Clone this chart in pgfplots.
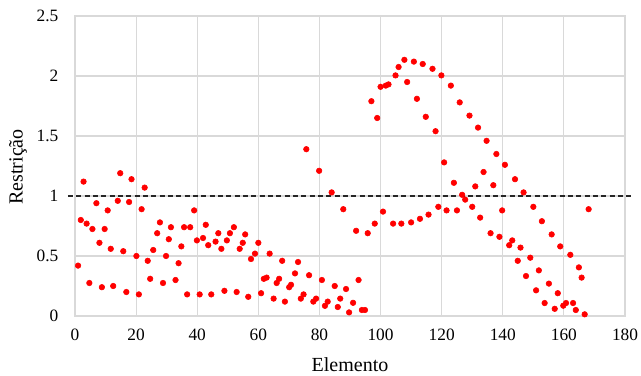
\documentclass[border=0pt]{standalone}
\usepackage{fontspec}
\setmainfont{Liberation Serif}
\usepackage{pgfplots}
\pgfplotsset{compat=1.18}
\usetikzlibrary{calc}
\definecolor{gridgray}{RGB}{217,217,217}
\begin{document}
\begin{tikzpicture}
\begin{axis}[
 name=ax,
 scale only axis,
 width=412.5pt, height=225pt,
 xmin=0, xmax=180, ymin=0, ymax=2.5,
 xtick={0,20,...,180}, ytick={0,0.5,1,1.5,2,2.5},
 grid=major, major grid style={draw=gridgray, line width=0.9pt},
 axis line style={draw=gridgray, line width=0.9pt},
 tick style={draw=none},
 /pgf/number format/assume math mode=true,
 ticklabel style={font=\fontsize{13}{15}\selectfont},
 yticklabel style={xshift=-9pt},
 xticklabel style={yshift=-6pt},
 xlabel={Elemento}, ylabel={Restrição},
 label style={font=\fontsize{15}{18}\selectfont},
 x label style={at={(axis description cs:0.5,-0.163)}, anchor=center},
 y label style={at={(axis description cs:-0.1036,0.497)}, anchor=center},
 clip=false,
]
\addplot[black!85, line width=1.2pt, dash pattern=on 3.75pt off 2.5pt] coordinates {(-2.3,1) (182.2,1)};
\addplot[only marks, mark=*, mark size=2.1pt, mark options={draw=red, fill=red}] table {
x y
1.0 0.42
1.9 0.80
2.8 1.12
3.8 0.77
4.7 0.275
5.7 0.725
7.0 0.94
8.0 0.61
8.8 0.24
9.7 0.725
10.7 0.88
11.7 0.56
12.5 0.25
14.0 0.96
14.8 1.19
15.8 0.54
16.8 0.20
17.7 0.95
18.5 1.14
20.1 0.50
20.9 0.18
21.8 0.89
22.8 1.07
23.8 0.46
24.6 0.31
25.6 0.55
26.9 0.69
27.8 0.78
28.8 0.275
29.8 0.50
30.7 0.64
31.4 0.74
32.9 0.30
33.9 0.44
34.8 0.58
35.7 0.74
36.7 0.18
37.7 0.74
39.0 0.88
39.9 0.63
40.8 0.18
41.9 0.65
42.8 0.76
43.6 0.59
44.6 0.18
46.0 0.62
46.9 0.69
47.9 0.56
48.9 0.21
49.7 0.63
50.7 0.69
52.0 0.74
52.9 0.20
53.9 0.56
54.9 0.61
55.7 0.68
56.7 0.16
57.6 0.475
58.9 0.52
60.0 0.61
60.9 0.19
61.8 0.31
62.7 0.32
63.7 0.52
65.0 0.145
66.0 0.275
66.8 0.31
67.8 0.46
68.7 0.12
70.1 0.24
70.7 0.26
72.0 0.355
73.0 0.45
73.9 0.145
74.8 0.18
75.7 1.39
76.6 0.34
78.0 0.12
78.9 0.145
79.9 1.21
80.8 0.30
81.8 0.085
82.7 0.12
84.0 1.03
85.0 0.25
86.0 0.075
86.8 0.145
87.8 0.89
88.7 0.225
89.7 0.03
91.0 0.11
92.0 0.71
92.8 0.30
93.9 0.05
94.9 0.05
95.8 0.69
97.0 1.79
98.1 0.77
98.9 1.65
100.0 1.91
100.8 0.87
101.7 1.92
102.6 1.93
104.1 0.77
104.9 2.005
105.9 2.075
106.8 0.77
107.8 2.135
108.7 1.95
110.0 0.78
110.9 2.12
111.9 1.81
112.9 0.81
113.8 2.10
114.8 1.66
115.7 0.845
117.0 2.06
118.0 1.54
118.9 0.91
119.9 2.005
120.8 1.28
121.6 0.88
123.0 1.92
124.0 1.11
125.0 0.88
125.9 1.78
126.7 1.01
127.7 0.97
129.1 1.67
130.0 0.91
131.0 1.08
131.9 1.57
132.6 0.82
133.7 1.20
134.7 1.46
136.0 0.69
136.9 1.09
137.9 1.35
138.9 0.66
139.8 0.88
140.7 1.26
142.1 0.59
143.1 0.63
144.0 1.14
144.9 0.46
145.8 0.57
146.8 1.03
147.6 0.333
149.0 0.486
150.0 0.91
150.9 0.214
151.8 0.38
152.8 0.79
153.7 0.108
155.1 0.27
156.0 0.68
157.0 0.06
158.0 0.19
158.8 0.58
159.8 0.086
160.7 0.108
162.1 0.51
163.0 0.108
163.9 0.05
164.9 0.405
165.8 0.32
166.8 0.014
168.1 0.89
};
\end{axis}
\pgfresetboundingbox
\useasboundingbox ($(ax.south west)+(-56.25pt,-44.25pt)$) rectangle ($(ax.north east)+(12pt,12pt)$);
\end{tikzpicture}
\end{document}
